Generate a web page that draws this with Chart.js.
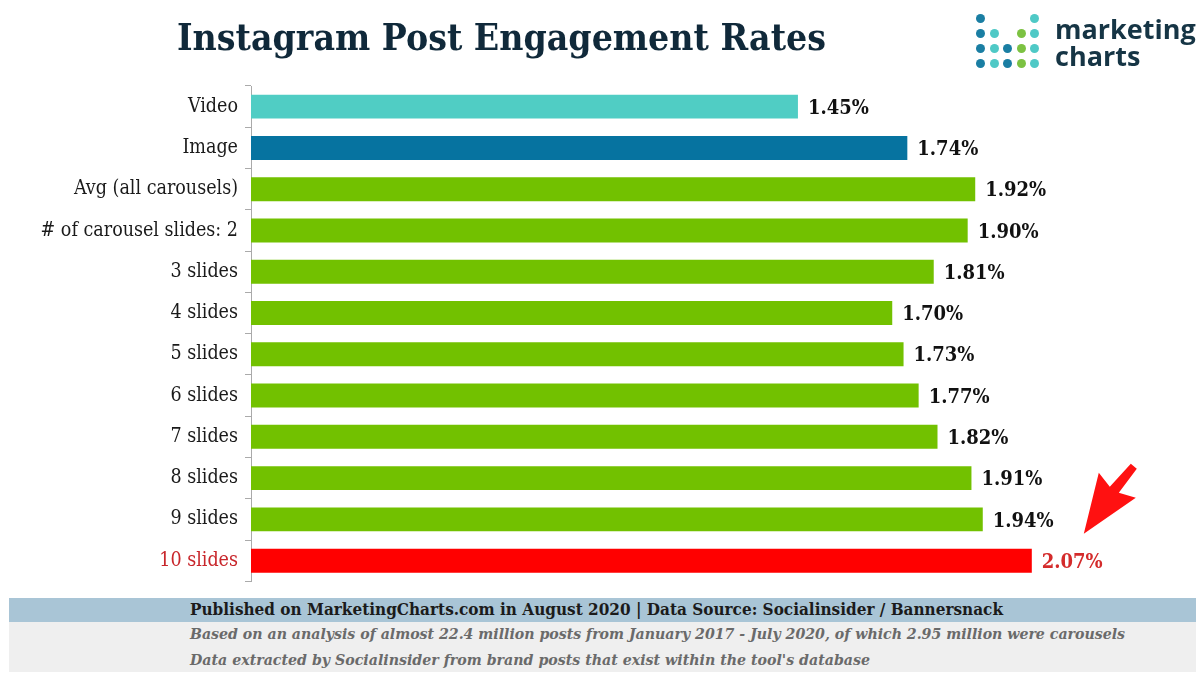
<!DOCTYPE html>
<html>
<head>
<meta charset="utf-8">
<script src="https://cdn.jsdelivr.net/npm/chart.js@4.4.1/dist/chart.umd.min.js"></script>
<style>
  html, body { margin: 0; padding: 0; background: #fff; }
  #page { position: relative; width: 1200px; height: 676px; overflow: hidden; background: #fff; }
  #title {
    position: absolute; left: 177px; top: 14px; white-space: nowrap;
    font-family: 'DejaVu Serif Condensed', 'DejaVu Serif', serif; font-weight: bold;
    font-size: 38px; color: #10293a; transform-origin: 0 0;
  }
  #chartBox { position: absolute; left: 0; top: 0; width: 1200px; height: 600px; }
  .logo-dot { position: absolute; width: 9px; height: 9px; border-radius: 50%; }
  #logoText {
    position: absolute; left: 1055px; top: 15px; line-height: 27px;
    font-family: 'Open Sans', sans-serif; font-weight: bold; font-size: 27px; color: #163545;
  }
  #srcBand {
    position: absolute; left: 9px; top: 598px; width: 1187px; height: 24px; background: #a9c5d6;
  }
  #noteBand {
    position: absolute; left: 9px; top: 622px; width: 1187px; height: 50px; background: #efefef;
  }
  .foot {
    position: absolute; left: 190px; white-space: nowrap;
    font-family: 'DejaVu Serif Condensed', 'DejaVu Serif', serif; transform-origin: 0 0;
  }
  #src { top: 600px; font-weight: bold; font-size: 16px; color: #1b1b1b; }
  #note1 { top: 625px; font-style: italic; font-weight: bold; font-size: 15px; color: #6a6a6a; }
  #note2 { top: 651px; font-style: italic; font-weight: bold; font-size: 15px; color: #6a6a6a; }
</style>
</head>
<body>
<div id="page">
  <div id="chartBox"><canvas id="engagement-plot" width="1200" height="600"></canvas></div>
  <div id="title">Instagram Post Engagement Rates</div>
  <div id="logo"></div>
  <div id="logoText">marketing<br>charts</div>
  <div id="srcBand"></div>
  <div id="noteBand"></div>
  <div id="src" class="foot">Published on MarketingCharts.com in August 2020 | Data Source: Socialinsider / Bannersnack</div>
  <div id="note1" class="foot">Based on an analysis of almost 22.4 million posts from January 2017 - July 2020, of which 2.95 million were carousels</div>
  <div id="note2" class="foot">Data extracted by Socialinsider from brand posts that exist within the tool's database</div>
</div>
<script>
const postTypes = ["Video", "Image", "Avg (all carousels)", "# of carousel slides: 2", "3 slides", "4 slides",
  "5 slides", "6 slides", "7 slides", "8 slides", "9 slides", "10 slides"];
const engagementRates = [1.45, 1.74, 1.92, 1.90, 1.81, 1.70, 1.73, 1.77, 1.82, 1.91, 1.94, 2.07];
const barColors = ["#50cdc4", "#0673a0", "#72c100", "#72c100", "#72c100", "#72c100",
  "#72c100", "#72c100", "#72c100", "#72c100", "#72c100", "#ff0000"];
const highlightIdx = postTypes.length - 1;

const slabFont = "'DejaVu Serif Condensed', 'DejaVu Serif', serif";

// squeeze html text to the width it has in the original
function fitWidth(id, w) {
  let el = document.getElementById(id);
  let real = el.getBoundingClientRect().width;
  el.style.transform = "scaleX(" + (w / real) + ")";
}
fitWidth('title', 649);
fitWidth('src', 813);
fitWidth('note1', 935);
fitWidth('note2', 680);

// logo dots: columns of the little bar-chart mark
const logoCols = [
  ["#1a7ea3", "#1a7ea3", "#1a7ea3", "#1a7ea3"],
  [null, "#4fc9c6", "#4fc9c6", "#4fc9c6"],
  [null, null, "#1a7ea3", "#1a7ea3"],
  [null, "#7cc242", "#7cc242", "#7cc242"],
  ["#4fc9c6", "#4fc9c6", "#4fc9c6", "#4fc9c6"]
];
let logo = document.getElementById('logo');
logoCols.forEach((col, c) => {
  col.forEach((color, r) => {
    if (!color) return;
    let d = document.createElement('div');
    d.className = 'logo-dot';
    d.style.background = color;
    d.style.left = (976 + c * 13.6) + 'px';
    d.style.top = (14 + r * 15) + 'px';
    logo.appendChild(d);
  });
});

const valueLabels = {
  id: 'valueLabels',
  afterDatasetsDraw(chart) {
    const ctx = chart.ctx;
    const meta = chart.getDatasetMeta(0);
    ctx.save();
    ctx.font = "bold 20px " + slabFont;
    ctx.textBaseline = 'middle';
    meta.data.forEach((bar, i) => {
      ctx.fillStyle = i == highlightIdx ? '#d42b2b' : '#111';
      ctx.fillText(engagementRates[i].toFixed(2) + '%', bar.x + 10, bar.y + 2);
    });
    ctx.restore();
  }
};

// red arrow pointing at the top bar value
const pointer = {
  id: 'pointer',
  afterDraw(chart) {
    const ctx = chart.ctx;
    const tx = chart.scales.x.getPixelForValue(engagementRates[highlightIdx]) + 52;
    const ty = chart.scales.y.getPixelForValue(highlightIdx) - 27;
    ctx.save();
    ctx.fillStyle = '#ff1111';
    ctx.beginPath();
    ctx.moveTo(tx, ty);
    ctx.lineTo(tx + 15, ty - 61);
    ctx.lineTo(tx + 26, ty - 47);
    ctx.lineTo(tx + 47, ty - 70);
    ctx.lineTo(tx + 53, ty - 65);
    ctx.lineTo(tx + 35, ty - 41);
    ctx.lineTo(tx + 52, ty - 36);
    ctx.closePath();
    ctx.fill();
    ctx.restore();
  }
};

const engagementPlot = new Chart("engagement-plot", {
  type: 'bar',
  data: {
    labels: postTypes,
    datasets: [{
      data: engagementRates,
      backgroundColor: barColors,
      borderWidth: 0,
      categoryPercentage: 0.58,
      barPercentage: 1.0
    }]
  },
  options: {
    indexAxis: 'y',
    responsive: false,
    animation: false,
    layout: { padding: { top: 86, bottom: 10, left: 0, right: 6 } },
    scales: {
      x: { min: 0, max: 2.5, display: false },
      y: {
        afterFit: (scale) => { scale.width = 251; },
        border: { display: true, color: '#aaaaaa', dash: [3, 3], width: 1 },
        grid: { offset: true, drawOnChartArea: false, drawTicks: true, tickLength: 6, color: '#aaaaaa' },
        ticks: {
          padding: 7,
          font: { family: slabFont, size: 19.5 },
          color: (c) => c.index == highlightIdx ? '#c8262b' : '#1a1a1a'
        }
      }
    },
    plugins: {
      legend: { display: false },
      tooltip: { enabled: false }
    }
  },
  plugins: [valueLabels, pointer]
});
</script>
</body>
</html>
